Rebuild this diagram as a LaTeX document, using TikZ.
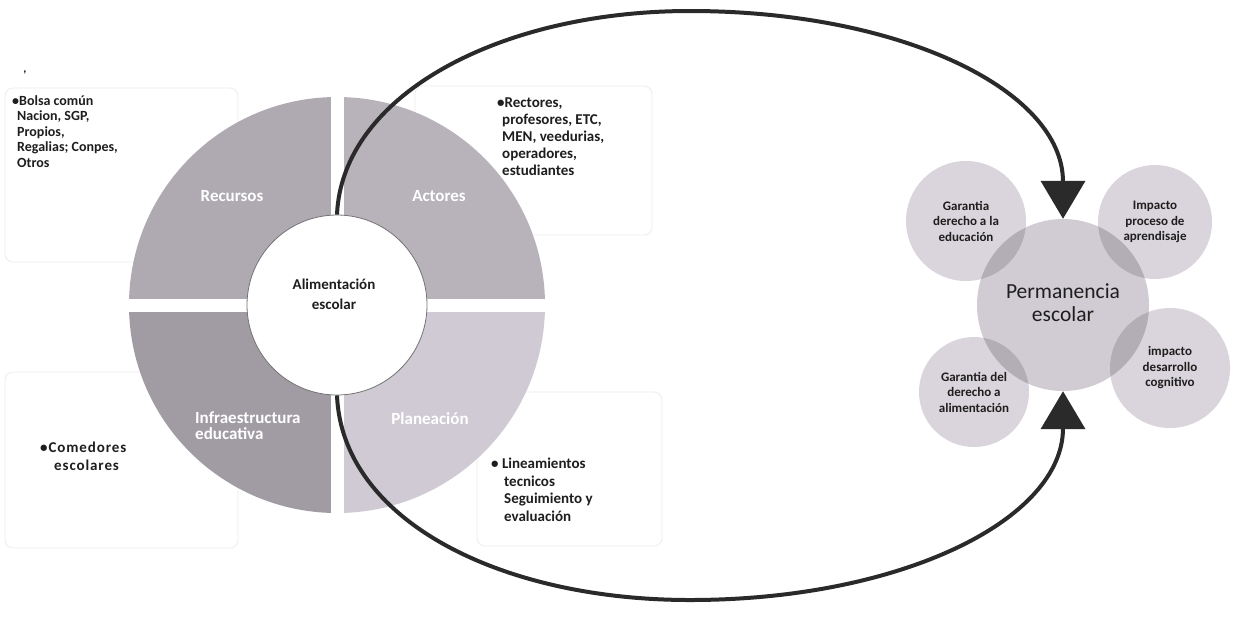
\documentclass[tikz,border=0pt]{standalone}
\usepackage{fontspec}
\setmainfont{Carlito}
\usetikzlibrary{arrows.meta}
\definecolor{qA}{HTML}{AFA9B1}
\definecolor{qB}{HTML}{B8B2BB}
\definecolor{qC}{HTML}{A19BA4}
\definecolor{qD}{HTML}{CFCAD4}
\definecolor{sat}{HTML}{DAD5DC}
\definecolor{cen}{HTML}{D1CBD3}
\definecolor{lens}{HTML}{B3ADB6}
\definecolor{arr}{HTML}{2A2A2A}
\definecolor{txt}{HTML}{1E1E1E}
\definecolor{faint}{HTML}{EDEDED}
\tikzset{
  body/.style={font=\fontsize{15}{16.8}\selectfont\bfseries, text=txt, align=left, inner sep=0pt, anchor=north west},
  qlabel/.style={font=\fontsize{17}{16}\selectfont\bfseries, text=white, inner sep=0pt},
  satc/.style={circle, fill=sat, inner sep=0pt, align=center, font=\fontsize{13}{15.5}\selectfont\bfseries, text=txt},
  bigarrow/.style={draw=arr, line width=4pt, -{Triangle[width=44pt,length=38pt]}},
  faintbox/.style={draw=faint, line width=0.8pt, rounded corners=8pt},
}
\begin{document}
\begin{tikzpicture}[x=1pt,y=-1pt]
\useasboundingbox (0,0) rectangle (1238,625);
\fill[white] (0,0) rectangle (1238,625);
% faint text boxes
\draw[faintbox] (415,86) rectangle (652,235);
\draw[faintbox] (477,392) rectangle (662,546);
\draw[faintbox] (5,88) rectangle (238,262);
\draw[faintbox] (5,372) rectangle (238,548);
% donut
\coordinate (dc) at (337,305);
\fill[qA] (dc) -- ++(180:208) arc[start angle=180,end angle=270,radius=208] -- cycle;
\fill[qB] (dc) -- ++(270:208) arc[start angle=270,end angle=360,radius=208] -- cycle;
\fill[qD] (dc) -- ++(0:208) arc[start angle=0,end angle=90,radius=208] -- cycle;
\fill[qC] (dc) -- ++(90:208) arc[start angle=90,end angle=180,radius=208] -- cycle;
\draw[white, line width=13pt] (dc) ++(-215,0) -- ++(430,0);
\draw[white, line width=13pt] (dc) ++(0,-215) -- ++(0,430);
\node[circle, fill=white, draw=black!55, line width=0.8pt, minimum size=180pt, inner sep=0pt] (alim) at (dc) {};
\node[font=\fontsize{15}{20}\selectfont\bfseries, text=txt, align=center, inner sep=0pt] (alimtxt) at (334,294) {Alimentación\\escolar};
% quadrant labels
\node[qlabel] (lrec) at (232,196) {Recursos};
\node[qlabel] (lact) at (439,196) {Actores};
\node[qlabel, align=left, anchor=west] (linf) at (195,426) {Infraestructura\\educativa};
\node[qlabel] (lpla) at (430,419) {Planeación};
% side texts
\node[font=\fontsize{12}{12}\selectfont\bfseries, text=txt] (mark) at (25,72) {,};
\node[body, font=\fontsize{14}{15.6}\selectfont\bfseries] (trec) at (12,95) {•Bolsa común\\\hspace*{5pt}Nacion, SGP,\\\hspace*{5pt}Propios,\\\hspace*{5pt}Regalias; Conpes,\\\hspace*{5pt}Otros};
\node[body] (tact) at (497,98) {•Rectores,\\\hspace*{5pt}profesores, ETC,\\\hspace*{5pt}MEN, veedurias,\\\hspace*{5pt}operadores,\\\hspace*{5pt}estudiantes};
\node[body, font=\fontsize{15}{17.6}\selectfont\bfseries] (tpla) at (491,458) {• Lineamientos\\\hspace*{13pt}tecnicos\\\hspace*{13pt}Seguimiento y\\\hspace*{13pt}evaluación};
\node[body, font=\fontsize{15}{18}\selectfont\bfseries\addfontfeature{LetterSpace=6}] (tinf) at (40,442) {•Comedores\\\hspace*{14pt}escolares};
% right cluster
\node[circle, fill=cen, minimum size=172pt, inner sep=0pt] (perm) at (1063,305) {};
\node[satc, minimum size=120pt] (s1) at (966,221) {Garantia\\derecho a la\\educación};
\node[satc, minimum size=114pt] (s2) at (1155,222) {Impacto\\proceso de\\aprendisaje};
\node[satc, minimum size=110pt] (s3) at (974,392) {Garantia del\\derecho a\\alimentación};
\node[satc, minimum size=120pt] (s4) at (1170,368) {impacto\\desarrollo\\cognitivo};
\begin{scope}
  \clip (1063,305) circle[radius=86];
  \fill[lens] (966,221) circle[radius=60];
  \fill[lens] (1155,222) circle[radius=57];
  \fill[lens] (974,392) circle[radius=55];
  \fill[lens] (1170,368) circle[radius=60];
\end{scope}
\node[font=\fontsize{21.5}{23}\selectfont, text=txt, align=center, inner sep=0pt] (permtxt) at (1063,303) {Permanencia\\escolar};
% big curved arrows
\coordinate (ttop) at (690,11);
\coordinate (tbot) at (690,600);
\draw[bigarrow] (alim.north) .. controls (342,95) and (500,11) .. (ttop) .. controls (900,11) and (1063,90) .. (perm.north);
\draw[bigarrow] (alim.south) .. controls (342,520) and (500,600) .. (tbot) .. controls (900,600) and (1063,520) .. (perm.south);
\end{tikzpicture}
\end{document}
